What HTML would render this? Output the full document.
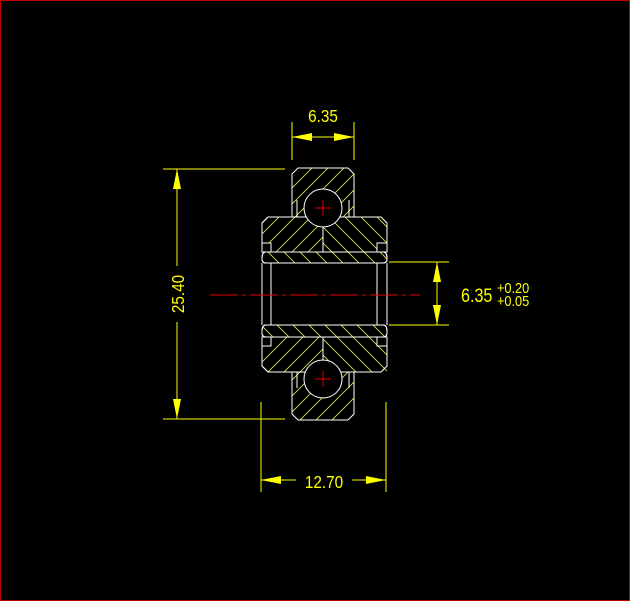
<!DOCTYPE html>
<html><head><style>html,body{margin:0;padding:0;background:#000}svg{display:block}</style></head>
<body>
<svg width="630" height="601" viewBox="0 0 630 601" xmlns="http://www.w3.org/2000/svg">
<defs>
<pattern id="h1" width="16" height="16" patternUnits="userSpaceOnUse"><path d="M-4 20 L20 -4 M-4 4 L4 -4 M12 20 L20 12" stroke="#e8e850" stroke-width="0.8"/></pattern>
<pattern id="h2" width="16" height="16" patternUnits="userSpaceOnUse"><path d="M-4 -4 L20 20 M12 -4 L20 4 M-4 12 L4 20" stroke="#e8e850" stroke-width="0.8"/></pattern>
</defs>
<rect x="0.5" y="0.5" width="629" height="600" fill="#000" stroke="#c00000"/>
<g fill="none" stroke="#fff" stroke-width="1">
<path d="M298 168 H348 L354 174 V217 H292 V174 Z" fill="url(#h1)"/>
<path d="M268 217 H381 L387 223 V252 H262 V223 Z" fill="url(#h1)"/>
<path d="M323 217 L387 217 V252 H323 Z" fill="#000" stroke="none"/>
<path d="M323 217 L387 217 V252 H323 Z" fill="url(#h2)" stroke="none"/>
<path d="M268 217 H381 L387 223 V252 H262 V223 Z"/>
<path d="M266 252 H383 Q387 252 387 258 V259 Q387 263 383 263 H266 Q262 263 262 259 V258 Q262 252 266 252 Z" fill="#000"/>
<path d="M266 252 H383 Q387 252 387 258 V259 Q387 263 383 263 H266 Q262 263 262 259 V258 Q262 252 266 252 Z" fill="url(#h2)"/>
<rect x="262" y="243" width="9" height="9" fill="#000"/>
<rect x="377" y="243" width="10" height="9" fill="#000"/>
<line x1="323" y1="227" x2="323" y2="252"/>
<line x1="297" y1="200" x2="297" y2="217"/><line x1="349" y1="200" x2="349" y2="217"/>
<circle cx="323" cy="208" r="19" fill="#000"/>
<path d="M268 372 H381 L387 366 V337 H262 V366 Z" fill="url(#h1)"/>
<path d="M323 372 L387 372 V337 H323 Z" fill="#000" stroke="none"/>
<path d="M323 372 L387 372 V337 H323 Z" fill="url(#h2)" stroke="none"/>
<path d="M268 372 H381 L387 366 V337 H262 V366 Z"/>
<path d="M266 325 H383 Q387 325 387 331 V333 Q387 337 383 337 H266 Q262 337 262 333 V331 Q262 325 266 325 Z" fill="#000"/>
<path d="M266 325 H383 Q387 325 387 331 V333 Q387 337 383 337 H266 Q262 337 262 333 V331 Q262 325 266 325 Z" fill="url(#h2)"/>
<rect x="262" y="337" width="9" height="9" fill="#000"/>
<rect x="377" y="337" width="10" height="9" fill="#000"/>
<line x1="323" y1="337" x2="323" y2="360"/>
<path d="M298 420 H348 L354 414 V372 H292 V414 Z" fill="url(#h1)"/>
<line x1="297" y1="372" x2="297" y2="388"/><line x1="349" y1="372" x2="349" y2="388"/>
<circle cx="323" cy="379" r="19" fill="#000"/>
<line x1="262" y1="263" x2="262" y2="325"/><line x1="271" y1="263" x2="271" y2="325"/>
<line x1="377" y1="263" x2="377" y2="325"/><line x1="387" y1="263" x2="387" y2="325"/>
</g>
<g stroke="#e00000" stroke-width="1">
<line x1="315" y1="208" x2="331" y2="208"/><line x1="323" y1="200" x2="323" y2="216"/>
<line x1="315" y1="379" x2="331" y2="379"/><line x1="323" y1="371" x2="323" y2="387"/>
<line x1="210" y1="295" x2="420" y2="295" stroke-dasharray="28 4 4 4"/>
</g>
<g stroke="#ffff00" stroke-width="1" fill="none">
<line x1="163" y1="169" x2="285" y2="169"/><line x1="163" y1="419" x2="285" y2="419"/>
<line x1="177" y1="169" x2="177" y2="266"/><line x1="177" y1="322" x2="177" y2="419"/>
<line x1="292" y1="122" x2="292" y2="160"/><line x1="354" y1="122" x2="354" y2="160"/>
<line x1="292" y1="137" x2="354" y2="137"/>
<line x1="261" y1="402" x2="261" y2="492"/><line x1="386" y1="402" x2="386" y2="492"/>
<line x1="261" y1="480" x2="296" y2="480"/><line x1="352" y1="480" x2="386" y2="480"/>
<line x1="389" y1="262" x2="449" y2="262"/><line x1="389" y1="325" x2="449" y2="325"/>
<line x1="437" y1="262" x2="437" y2="325"/>
</g>
<g fill="#ffff00">
<path d="M177 169 L173 189 L181 189 Z"/><path d="M177 419 L173 399 L181 399 Z"/>
<path d="M292 137 L312 133 L312 141 Z"/><path d="M354 137 L334 133 L334 141 Z"/>
<path d="M261 480 L281 476 L281 484 Z"/><path d="M386 480 L366 476 L366 484 Z"/>
<path d="M437 262 L433 282 L441 282 Z"/><path d="M437 325 L433 305 L441 305 Z"/>
</g>
<g fill="#ffff00" font-family="Liberation Sans, sans-serif">
<text x="323" y="122" font-size="18" text-anchor="middle" transform="translate(323 0) scale(0.85 1) translate(-323 0)">6.35</text>
<text x="324" y="488" font-size="18" text-anchor="middle" transform="translate(324 0) scale(0.85 1) translate(-324 0)">12.70</text>
<text font-size="18" text-anchor="middle" transform="translate(184 294) rotate(-90) scale(0.85 1)">25.40</text>
<text x="461" y="302" font-size="19" transform="translate(461 0) scale(0.85 1) translate(-461 0)">6.35</text>
<text x="497" y="293" font-size="15" transform="translate(497 0) scale(0.85 1) translate(-497 0)">+0.20</text>
<text x="497" y="306" font-size="15" transform="translate(497 0) scale(0.85 1) translate(-497 0)">+0.05</text>
</g>
</svg>
</body></html>
